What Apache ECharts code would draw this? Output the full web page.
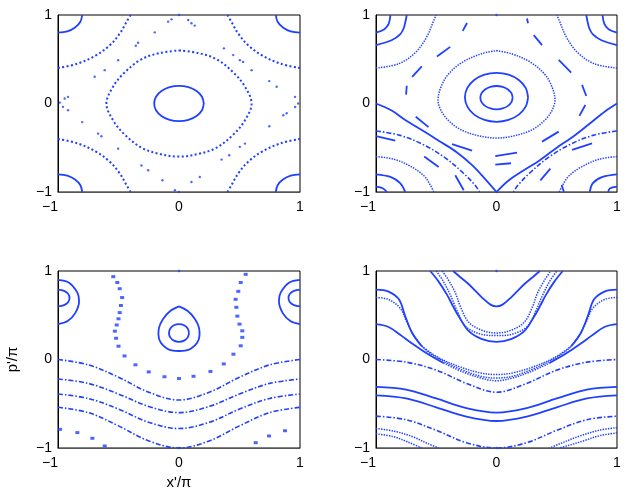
<!DOCTYPE html>
<html>
<head>
<meta charset="utf-8">
<script src="https://cdn.jsdelivr.net/npm/echarts@6/dist/echarts.min.js"></script>
<style>
  html, body { margin: 0; background: #fff; }
  #main { width: 627px; height: 498px; }
</style>
</head>
<body>
<div id="main"></div>
<script>
// ---- tick labels ----
const ticks = [-1, 0, 1]

// ---- panel 1 (top left) ----
const tlCore = [[0.205,0],[0.19,0.077],[0.145,0.141],[0.078,0.185],[0,0.2],[-0.078,0.185],[-0.145,0.141],[-0.19,0.077],[-0.205,0],[-0.19,-0.077],[-0.145,-0.141],[-0.078,-0.185],[0,-0.2],[0.078,-0.185],[0.145,-0.141],[0.19,-0.077],[0.205,0]]
const tlRing = [[0,0.6],[0.16,0.57],[0.31,0.5],[0.45,0.35],[0.545,0.19],[0.6,0],[0.545,-0.19],[0.45,-0.35],[0.31,-0.5],[0.16,-0.57],[0,-0.6],[-0.16,-0.57],[-0.31,-0.5],[-0.45,-0.35],[-0.545,-0.19],[-0.6,0],[-0.545,0.19],[-0.45,0.35],[-0.31,0.5],[-0.16,0.57],[0,0.6]]
const tlArcNW = [[-1,0.8],[-0.923,0.815],[-0.859,0.859],[-0.815,0.923],[-0.8,1]]
const tlArcNE = [[1,0.8],[0.923,0.815],[0.859,0.859],[0.815,0.923],[0.8,1]]
const tlArcSW = [[-1,-0.8],[-0.923,-0.815],[-0.859,-0.859],[-0.815,-0.923],[-0.8,-1]]
const tlArcSE = [[1,-0.8],[0.923,-0.815],[0.859,-0.859],[0.815,-0.923],[0.8,-1]]
const tlOuterNW = [[-1,0.4],[-0.84,0.45],[-0.69,0.54],[-0.57,0.66],[-0.49,0.79],[-0.43,0.93],[-0.4,1]]
const tlOuterNE = [[1,0.4],[0.84,0.45],[0.69,0.54],[0.57,0.66],[0.49,0.79],[0.43,0.93],[0.4,1]]
const tlOuterSW = [[-1,-0.4],[-0.84,-0.45],[-0.69,-0.54],[-0.57,-0.66],[-0.49,-0.79],[-0.43,-0.93],[-0.4,-1]]
const tlOuterSE = [[1,-0.4],[0.84,-0.45],[0.69,-0.54],[0.57,-0.66],[0.49,-0.79],[0.43,-0.93],[0.4,-1]]
const tlSepDots = [[-0.062,0.951],[-0.09,0.925],[-0.2,0.804],[-0.338,0.687],[-0.357,0.653],[-0.503,0.49],[-0.614,0.377],[-0.697,0.302],[-0.917,0.075],[-0.945,0.057],[-0.985,0.01],
  [-0.959,-0.038],[-0.917,-0.075],[-0.8,-0.21],[-0.669,-0.34],[-0.641,-0.37],[-0.503,-0.51],[-0.31,-0.7],[-0.255,-0.755],[-0.137,-0.868],[-0.034,-0.98],
  [0,-1],[0.103,-0.887],[0.172,-0.83],[0.352,-0.634],[0.415,-0.585],[0.503,-0.49],[0.545,-0.453],[0.746,-0.257],[0.862,-0.132],[0.89,-0.11],[0.96,-0.04],
  [0.985,0],[0.959,0.075],[0.807,0.189],[0.746,0.253],[0.6,0.377],[0.53,0.47],[0.503,0.49],[0.448,0.547],[0.371,0.623],[0.13,0.88],[0.103,0.906],[0.076,0.943],[0,1]]

// ---- panel 2 (top right) ----
const trCore = [[0.134,0.066],[0.124,0.117],[0.095,0.159],[0.051,0.188],[0,0.198],[-0.051,0.188],[-0.095,0.159],[-0.124,0.117],[-0.134,0.066],[-0.124,0.015],[-0.095,-0.027],[-0.051,-0.056],[0,-0.066],[0.051,-0.056],[0.095,-0.027],[0.124,0.015],[0.134,0.066]]
const trRing2 = [[0.262,0.07],[0.242,0.176],[0.185,0.266],[0.1,0.326],[0,0.347],[-0.1,0.326],[-0.185,0.266],[-0.242,0.176],[-0.262,0.07],[-0.242,-0.036],[-0.185,-0.126],[-0.1,-0.186],[0,-0.207],[0.1,-0.186],[0.185,-0.126],[0.242,-0.036],[0.262,0.07]]
const trRing3 = [[0,0.597],[0.13,0.56],[0.29,0.46],[0.4,0.33],[0.46,0.19],[0.485,0.04],[0.46,-0.08],[0.4,-0.19],[0.29,-0.3],[0.13,-0.37],[0,-0.39],[-0.13,-0.37],[-0.29,-0.3],[-0.4,-0.19],[-0.46,-0.08],[-0.485,0.04],[-0.46,0.19],[-0.4,0.33],[-0.29,0.46],[-0.13,0.56],[0,0.597]]
const trDashes = [
  [[0.253,0.96],[0.262,0.906]], [[0.309,0.773],[0.378,0.66]], [[0.516,0.492],[0.62,0.35]],
  [[0.71,0.21],[0.745,0.085]], [[0.737,-0.017],[0.688,-0.14]], [[0.516,-0.318],[0.378,-0.431]],
  [[0.17,-0.556],[-0.01,-0.594]], [[-0.245,0.91],[-0.28,0.82]], [[-0.384,0.64],[-0.494,0.53]],
  [[-0.62,0.42],[-0.7,0.3]], [[-0.745,0.2],[-0.75,0.1]], [[-0.67,-0.15],[-0.564,-0.267]],
  [[-0.369,-0.458],[-0.203,-0.533]], [[-1,-0.37],[-0.84,-0.42]], [[-0.6,-0.6],[-0.48,-0.717]],
  [[-0.342,-0.81],[-0.272,-0.98]], [[0.627,-0.525],[0.793,-0.45]], [[0.364,-0.868],[0.447,-0.736]],
  [[0.54,-0.92],[0.56,-1]], [[-0.01,-0.69],[0.12,-0.675]]
]
const trSepL = [[-1,0],[-0.87,-0.08],[-0.757,-0.186],[-0.62,-0.3],[-0.48,-0.42],[-0.33,-0.55],[-0.2,-0.7],[-0.09,-0.86],[0,-1]]
const trSepR = [[0,-1],[0.1,-0.87],[0.22,-0.76],[0.36,-0.64],[0.5,-0.5],[0.64,-0.37],[0.78,-0.22],[0.9,-0.09],[1,0]]
const trLowL = [[-1,-0.31],[-0.8,-0.36],[-0.6,-0.47],[-0.42,-0.62],[-0.28,-0.78],[-0.18,-0.92],[-0.14,-1]]
const trLowR = [[1,-0.31],[0.8,-0.36],[0.6,-0.47],[0.42,-0.62],[0.28,-0.78],[0.18,-0.92],[0.14,-1]]
const trT1L = [[-1,0.8],[-0.93,0.84],[-0.895,0.9],[-0.88,1]]
const trT1R = [[1,0.8],[0.93,0.84],[0.895,0.9],[0.88,1]]
const trT2L = [[-1,0.66],[-0.867,0.717],[-0.8,0.78],[-0.77,0.85],[-0.755,0.93],[-0.745,1]]
const trT2R = [[1,0.66],[0.867,0.717],[0.8,0.78],[0.77,0.85],[0.755,0.93],[0.745,1]]
const trT3L = [[-1,0.4],[-0.81,0.45],[-0.67,0.58],[-0.58,0.75],[-0.52,0.94],[-0.5,1]]
const trT3R = [[1,0.4],[0.81,0.45],[0.67,0.58],[0.58,0.75],[0.52,0.94],[0.5,1]]
const trB1L = [[-1,-0.8],[-0.88,-0.83],[-0.8,-0.9],[-0.757,-1]]
const trB1R = [[1,-0.8],[0.88,-0.83],[0.8,-0.9],[0.774,-1]]
const trB2L = [[-1,-0.94],[-0.94,-0.96],[-0.91,-1]]
const trB2R = [[1,-0.94],[0.94,-0.96],[0.927,-1]]
const trB3L = [[-1,-0.6],[-0.85,-0.63],[-0.7,-0.72],[-0.6,-0.82],[-0.55,-0.92],[-0.52,-1]]
const trB3R = [[1,-0.6],[0.85,-0.63],[0.7,-0.72],[0.6,-0.82],[0.55,-0.92],[0.52,-1]]

// ---- panel 3 (bottom left) ----
const blIslLin = [[-1,0.79],[-0.95,0.775],[-0.915,0.74],[-0.905,0.695],[-0.915,0.65],[-0.95,0.615],[-1,0.6]]
const blIslLout = [[-1,0.9],[-0.909,0.868],[-0.84,0.755],[-0.826,0.66],[-0.855,0.53],[-0.92,0.435],[-1,0.4]]
const blIslRin = [[1,0.79],[0.95,0.775],[0.915,0.74],[0.905,0.695],[0.915,0.65],[0.95,0.615],[1,0.6]]
const blIslRout = [[1,0.9],[0.909,0.868],[0.84,0.755],[0.826,0.66],[0.855,0.53],[0.92,0.435],[1,0.4]]
const blCtrIn = [[0.083,0.3],[0.072,0.35],[0.042,0.387],[0,0.4],[-0.042,0.387],[-0.072,0.35],[-0.083,0.3],[-0.072,0.25],[-0.042,0.213],[0,0.2],[0.042,0.213],[0.072,0.25],[0.083,0.3]]
const blCtrOut = [[0,0.6],[0.07,0.55],[0.13,0.46],[0.165,0.36],[0.17,0.28],[0.15,0.19],[0.1,0.125],[0.05,0.1],[0,0.096],[-0.05,0.1],[-0.1,0.125],[-0.15,0.19],[-0.17,0.28],[-0.165,0.36],[-0.13,0.46],[-0.07,0.55],[0,0.6]]
const blUMarks = [[-0.543,0.936],[-0.51,0.87],[-0.49,0.8],[-0.47,0.7],[-0.48,0.61],[-0.49,0.53],[-0.5,0.46],[-0.515,0.39],[-0.53,0.32],[-0.52,0.24],[-0.5,0.15],[-0.45,0.04],[-0.36,-0.06],[-0.25,-0.14],[-0.12,-0.195],[0,-0.215],
  [0.12,-0.19],[0.26,-0.135],[0.37,-0.05],[0.45,0.06],[0.51,0.155],[0.523,0.25],[0.523,0.324],[0.5,0.4],[0.482,0.49],[0.474,0.59],[0.468,0.68],[0.49,0.77],[0.51,0.87],[0.551,0.962]]
const blCornerMarks = [[-0.983,-0.789],[-0.84,-0.826],[-0.716,-0.89],[-0.614,-0.977],[0.876,-0.805],[0.744,-0.864],[0.634,-0.94]]
const blWave1 = [[-1,0],[-0.75,-0.06],[-0.5,-0.2],[-0.25,-0.37],[0,-0.458],[0.25,-0.37],[0.5,-0.2],[0.75,-0.06],[1,0]]
const blWave2 = [[-1,-0.22],[-0.75,-0.27],[-0.5,-0.39],[-0.25,-0.53],[0,-0.6],[0.25,-0.53],[0.5,-0.39],[0.75,-0.27],[1,-0.22]]
const blWave3 = [[-1,-0.39],[-0.75,-0.44],[-0.5,-0.56],[-0.25,-0.71],[0,-0.78],[0.25,-0.71],[0.5,-0.56],[0.75,-0.44],[1,-0.39]]
const blWave4 = [[-1,-0.54],[-0.75,-0.6],[-0.5,-0.75],[-0.25,-0.92],[0,-1],[0.25,-0.92],[0.5,-0.75],[0.75,-0.6],[1,-0.54]]

// ---- panel 4 (bottom right) ----
const brU1 = [[-0.36,1],[-0.3,0.93],[-0.23,0.85],[-0.12,0.7],[-0.05,0.62],[0,0.6],[0.05,0.62],[0.12,0.7],[0.23,0.85],[0.3,0.93],[0.36,1]]
const brU2 = [[-0.45,1],[-0.4,0.9],[-0.34,0.75],[-0.3,0.6],[-0.23,0.42],[-0.12,0.33],[0,0.3],[0.12,0.33],[0.23,0.42],[0.3,0.6],[0.34,0.75],[0.4,0.9],[0.45,1]]
const brU3 = [[-0.5,1],[-0.44,0.88],[-0.38,0.72],[-0.33,0.56],[-0.26,0.38],[-0.14,0.29],[0,0.27],[0.14,0.29],[0.26,0.38],[0.33,0.56],[0.38,0.72],[0.44,0.88],[0.5,1]]
const brU4 = [[-0.55,1],[-0.48,0.88],[-0.41,0.73],[-0.36,0.6],[-0.31,0.48],[-0.23,0.32],[-0.12,0.23],[0,0.2],[0.12,0.23],[0.23,0.32],[0.31,0.48],[0.36,0.6],[0.41,0.73],[0.48,0.88],[0.55,1]]
// the outer S curves are solid at the sides and break into dots in the middle band
const brS1L = [[-1,0.79],[-0.9,0.77],[-0.81,0.68],[-0.76,0.5],[-0.7,0.3],[-0.62,0.15]]
const brS1C = [[-0.62,0.15],[-0.48,0.02],[-0.31,-0.08],[-0.14,-0.15],[0,-0.17],[0.14,-0.15],[0.31,-0.08],[0.48,0.02],[0.62,0.15]]
const brS1R = [[0.62,0.15],[0.7,0.3],[0.76,0.5],[0.81,0.68],[0.9,0.77],[1,0.79]]
const brS2 = [[-1,0.7],[-0.9,0.68],[-0.8,0.58],[-0.74,0.41],[-0.67,0.24],[-0.58,0.1],[-0.44,-0.02],[-0.28,-0.12],[-0.13,-0.19],[0,-0.21],[0.13,-0.19],[0.28,-0.12],[0.44,-0.02],[0.58,0.1],[0.67,0.24],[0.74,0.41],[0.8,0.58],[0.9,0.68],[1,0.7]]
const brS3L = [[-1,0.4],[-0.9,0.37],[-0.8,0.28],[-0.7,0.18],[-0.58,0.07],[-0.44,-0.04]]
const brS3C = [[-0.44,-0.04],[-0.28,-0.14],[-0.13,-0.21],[0,-0.24],[0.13,-0.21],[0.28,-0.14],[0.44,-0.04]]
const brS3R = [[0.44,-0.04],[0.58,0.07],[0.7,0.18],[0.8,0.28],[0.9,0.37],[1,0.4]]
const brW1 = [[-1,0],[-0.75,-0.03],[-0.5,-0.12],[-0.25,-0.27],[0,-0.37],[0.25,-0.27],[0.5,-0.12],[0.75,-0.03],[1,0]]
const brW2 = [[-1,-0.31],[-0.75,-0.34],[-0.5,-0.44],[-0.25,-0.55],[0,-0.6],[0.25,-0.55],[0.5,-0.44],[0.75,-0.34],[1,-0.31]]
const brW3 = [[-1,-0.405],[-0.75,-0.44],[-0.5,-0.54],[-0.25,-0.645],[0,-0.695],[0.25,-0.645],[0.5,-0.54],[0.75,-0.44],[1,-0.405]]
const brW4 = [[-1,-0.64],[-0.75,-0.68],[-0.5,-0.8],[-0.25,-0.94],[0,-1],[0.25,-0.94],[0.5,-0.8],[0.75,-0.68],[1,-0.64]]
const brD1L = [[-1,-0.78],[-0.85,-0.81],[-0.7,-0.87],[-0.57,-0.95],[-0.48,-1]]
const brD2L = [[-1,-0.84],[-0.86,-0.87],[-0.74,-0.93],[-0.62,-1]]
const brD1R = [[1,-0.77],[0.85,-0.8],[0.68,-0.87],[0.53,-0.95],[0.44,-1]]
const brD2R = [[1,-0.83],[0.86,-0.86],[0.72,-0.92],[0.6,-0.97],[0.52,-1]]

// small marks at the top / bottom of the period
const edgeMarks = [[0,1],[0,-1]]

const BLUE = '#2040ff'
const SOLID = { type: 'solid', width: 1.8 }
const DOTS = { type: [2, 2.4], width: 2 }
const FINE = { type: [1.4, 1.2], width: 1.5 }
const DASHDOT = { type: [5, 2, 1.5, 2], width: 1.6 }

const series = []
function line(i, data, style) {
  series.push({
    type: 'line', xAxisIndex: i, yAxisIndex: i, data: data,
    symbol: 'none', smooth: 0.35, silent: true,
    lineStyle: Object.assign({ color: BLUE }, style)
  })
}
function marks(i, data, size, symbol) {
  series.push({
    type: 'scatter', xAxisIndex: i, yAxisIndex: i, data: data,
    symbol: symbol || 'circle', symbolSize: size, silent: true,
    itemStyle: { color: BLUE }
  })
}

// panel 1
line(0, tlCore, SOLID)
line(0, tlRing, DOTS)
;[tlArcNW, tlArcNE, tlArcSW, tlArcSE].forEach(d => line(0, d, SOLID))
;[tlOuterNW, tlOuterNE, tlOuterSW, tlOuterSE].forEach(d => line(0, d, DOTS))
marks(0, tlSepDots, 2.4)

// panel 2
line(1, trCore, SOLID)
line(1, trRing2, SOLID)
line(1, trRing3, FINE)
trDashes.forEach(d => line(1, d, SOLID))
line(1, trSepL, SOLID)
line(1, trSepR, SOLID)
line(1, trLowL, DASHDOT)
line(1, trLowR, DASHDOT)
;[trT1L, trT1R, trT2L, trT2R, trB1L, trB1R, trB2L, trB2R].forEach(d => line(1, d, SOLID))
;[trT3L, trT3R, trB3L, trB3R].forEach(d => line(1, d, FINE))
marks(1, edgeMarks, 2.4)

// panel 3
;[blIslLin, blIslLout, blIslRin, blIslRout, blCtrIn, blCtrOut].forEach(d => line(2, d, SOLID))
;[blWave1, blWave2, blWave3, blWave4].forEach(d => line(2, d, DASHDOT))
marks(2, blUMarks, [4, 3], 'rect')
marks(2, blCornerMarks, [4, 3], 'rect')
marks(2, edgeMarks, 2.4)

// panel 4
;[brU1, brU4, brS1L, brS1R, brS3L, brS3R, brW2, brW3].forEach(d => line(3, d, SOLID))
;[brU2, brU3, brS1C, brS2, brS3C, brD1L, brD2L, brD1R, brD2R].forEach(d => line(3, d, FINE))
;[brW1, brW4].forEach(d => line(3, d, DASHDOT))
marks(3, edgeMarks, 2.4)

const grids = [
  { left: 58, top: 15, width: 242, height: 177 },
  { left: 376, top: 15, width: 241, height: 177 },
  { left: 58, top: 271, width: 242, height: 177 },
  { left: 376, top: 271, width: 241, height: 177 }
].map(g => Object.assign({ show: true, borderColor: '#000', borderWidth: 1, backgroundColor: 'transparent' }, g))

const labelFont = { color: '#000', fontSize: 14, fontFamily: 'Liberation Sans, Arial, sans-serif' }
function fmtX(v) { return v < 0 ? '{n|−' + Math.abs(v) + '}' : String(v) }
function fmtY(v) { return v < 0 ? '−' + Math.abs(v) : String(v) }

const xAxes = grids.map((g, i) => ({
  type: 'value', gridIndex: i, min: ticks[0], max: ticks[2], interval: 1,
  axisLine: { show: true, onZero: false, lineStyle: { color: '#555' } },
  axisTick: { show: false }, splitLine: { show: false },
  axisLabel: Object.assign({ margin: 8, formatter: fmtX, rich: { n: Object.assign({ padding: [0, 16, 0, 0] }, labelFont) } }, labelFont),
  name: i === 2 ? "x'/π" : '', nameLocation: 'middle', nameGap: 27,
  nameTextStyle: { color: '#000', fontSize: 15, fontFamily: 'Liberation Sans, Arial, sans-serif' }
}))
const yAxes = grids.map((g, i) => ({
  type: 'value', gridIndex: i, min: ticks[0], max: ticks[2], interval: 1,
  axisLine: { show: true, onZero: false, lineStyle: { color: '#000' } },
  axisTick: { show: false }, splitLine: { show: false },
  axisLabel: Object.assign({ margin: 6, formatter: fmtY }, labelFont),
  name: i === 2 ? "p'/π" : '', nameLocation: 'middle', nameGap: 38,
  nameTextStyle: { color: '#000', fontSize: 15, fontFamily: 'Liberation Sans, Arial, sans-serif' }
}))

const chart = echarts.init(document.getElementById('main'), null, { renderer: 'canvas' })
chart.setOption({
  backgroundColor: '#fff',
  animation: false,
  grid: grids,
  xAxis: xAxes,
  yAxis: yAxes,
  series: series
})
</script>
</body>
</html>
